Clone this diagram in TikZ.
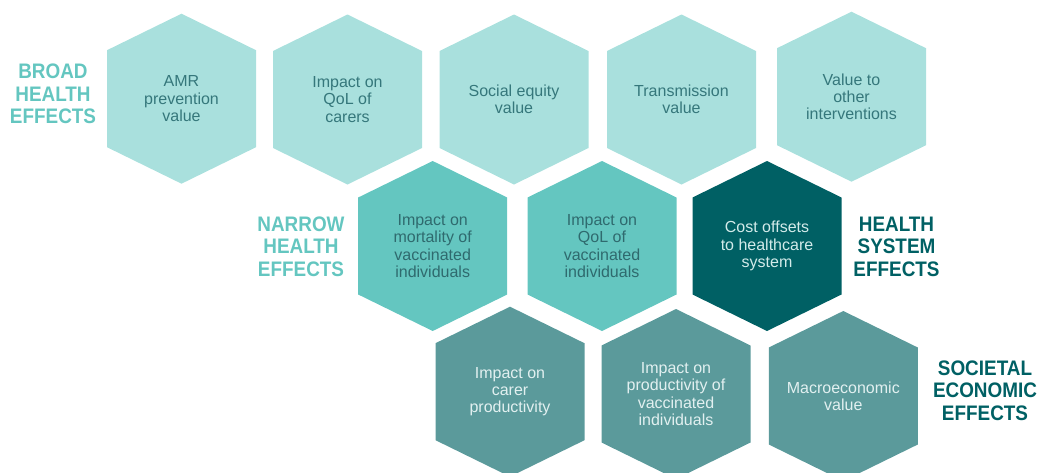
\documentclass[tikz,border=0pt]{standalone}
\usepackage{fontspec}
\setmainfont{Liberation Sans}
\newfontfamily\lblfont[FakeStretch=0.9]{Liberation Sans}
\definecolor{hexlight}{HTML}{A9E0DD}
\definecolor{hexmid}{HTML}{64C6C0}
\definecolor{hexdark}{HTML}{006064}
\definecolor{hexsoc}{HTML}{5B9A9B}
\definecolor{txtdark}{HTML}{35777B}
\definecolor{txtmid}{HTML}{2F6A6E}
\definecolor{txtlight}{HTML}{D3EBEA}
\definecolor{txtsoc}{HTML}{E2F0F0}
\tikzset{
  hextext/.style={align=center, inner sep=0pt, font=\fontsize{16}{17.3}\selectfont},
  grouplabel/.style={align=center, inner sep=0pt, font=\lblfont\bfseries\fontsize{21}{22.5}\selectfont},
}
\newcommand{\hexa}[6]{%
  \fill[#4] (#2,#3) ++(0,-85) -- ++(74.5,36.5) -- ++(0,97) -- ++(-74.5,36.5) -- ++(-74.5,-36.5) -- ++(0,-97) -- cycle;
  \node[hextext, text=#5] (#1) at (#2,#3) {#6};}
\begin{document}
\begin{tikzpicture}[x=1pt,y=-1pt]
\useasboundingbox (0,0) rectangle (1042,472);
% top row
\hexa{a1}{181.5}{98.7}{hexlight}{txtdark}{AMR\\prevention\\value}
\hexa{a2}{347.5}{99.5}{hexlight}{txtdark}{Impact on\\QoL of\\carers}
\hexa{a3}{514}{99.5}{hexlight}{txtdark}{Social equity\\value}
\hexa{a4}{681.5}{99.5}{hexlight}{txtdark}{Transmission\\value}
\hexa{a5}{851.5}{96.7}{hexlight}{txtdark}{Value to\\other\\interventions}
% middle row
\hexa{b1}{432.7}{246}{hexmid}{txtmid}{Impact on\\mortality of\\vaccinated\\individuals}
\hexa{b2}{602}{246}{hexmid}{txtmid}{Impact on\\QoL of\\vaccinated\\individuals}
\hexa{b3}{767}{246}{hexdark}{txtlight}{Cost offsets\\to healthcare\\system}
% bottom row
\hexa{c1}{510}{391.7}{hexsoc}{txtsoc}{Impact on\\carer\\productivity}
\hexa{c2}{676}{394}{hexsoc}{txtsoc}{Impact on\\productivity of\\vaccinated\\individuals}
\hexa{c3}{843.3}{396}{hexsoc}{txtsoc}{Macroeconomic\\value}
% labels
\node[grouplabel, text=hexmid] (lbroad) at (53,94) {BROAD\\HEALTH\\EFFECTS};
\node[grouplabel, text=hexmid] (lnarrow) at (301,246.5) {NARROW\\HEALTH\\EFFECTS};
\node[grouplabel, text=hexdark] (lsystem) at (896.5,246.5) {HEALTH\\SYSTEM\\EFFECTS};
\node[grouplabel, text=hexdark] (lsocietal) at (985,390.5) {SOCIETAL\\ECONOMIC\\EFFECTS};
\end{tikzpicture}
\end{document}
